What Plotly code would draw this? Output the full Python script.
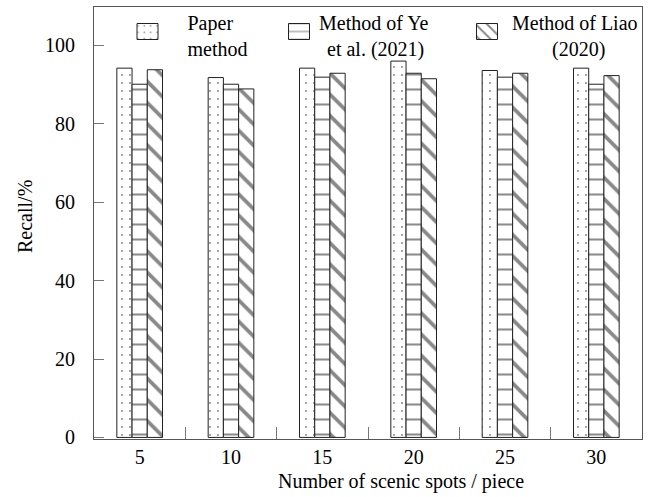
import plotly.graph_objects as go

categories = ["5", "10", "15", "20", "25", "30"]
paper_method = [94.2, 91.8, 94.2, 96.0, 93.6, 94.2]
ye_2021 = [90.1, 90.1, 91.9, 92.9, 91.9, 90.1]
liao_2020 = [93.8, 88.9, 92.9, 91.5, 92.9, 92.3]
y_ticks = [0, 20, 40, 60, 80, 100]

NB = "\u00a0"
TH = "\u2009"
name_paper = NB * 4 + "Paper<br>" + NB * 4 + "method"
name_ye = "Method of Ye<br>" + TH * 2 + "et al. (2021)"
name_liao = NB + "Method of Liao<br>" + NB * 9 + "(2020)"

FONT = "Liberation Serif, Times New Roman, serif"
LINE = "#222222"

fig = go.Figure()
fig.add_trace(go.Bar(
    x=categories, y=paper_method, name=name_paper, legend="legend", showlegend=True,
    marker=dict(color="white", line=dict(color=LINE, width=1),
                pattern=dict(shape=".", size=8, solidity=0.06,
                             fgcolor="#222222", bgcolor="white")),
))
fig.add_trace(go.Bar(
    x=categories, y=ye_2021, name=name_ye, legend="legend2", showlegend=True,
    marker=dict(color="white", line=dict(color=LINE, width=1),
                pattern=dict(shape="-", size=15, solidity=0.14,
                             fgcolor="#1a1a1a", bgcolor="white")),
))
fig.add_trace(go.Bar(
    x=categories, y=liao_2020, name=name_liao, legend="legend3", showlegend=True,
    marker=dict(color="white", line=dict(color=LINE, width=1),
                pattern=dict(shape="\\", size=15, solidity=0.25,
                             fgcolor="#111111", bgcolor="white")),
))

W, H = 654, 497
ml, mr, mt, mb = 94, 12, 7, 58
pw = W - ml - mr
ph = H - mt - mb

def px_x(x):
    return (x - ml) / pw

def px_y(y):
    return 1 - (y - mt) / ph

def cy(y):
    return 1 - y / H

legend_common = dict(font=dict(family=FONT, size=20, color="black"),
                     bgcolor="rgba(0,0,0,0)", borderwidth=0,
                     xref="paper", yref="container", xanchor="left", yanchor="top",
                     valign="middle", orientation="h", visible=True)

fig.update_layout(
    width=W, height=H,
    margin=dict(l=ml, r=mr, t=mt, b=mb, autoexpand=False),
    paper_bgcolor="white", plot_bgcolor="white",
    font=dict(family=FONT, size=20, color="black"),
    showlegend=True,
    barmode="group", bargap=0.5, bargroupgap=0,
    legend=dict(x=px_x(127.5), y=cy(3), **legend_common),
    legend2=dict(x=px_x(279), y=cy(3), **legend_common),
    legend3=dict(x=px_x(467), y=cy(3), **legend_common),
    xaxis=dict(type="category", showline=True, mirror=True, linecolor="#555555",
               linewidth=1, ticks="inside", tickson="boundaries", ticklen=12,
               tickcolor="#777777", showgrid=False, zeroline=False,
               tickfont=dict(family=FONT, size=20, color="black")),
    yaxis=dict(range=[-0.4, 109.8], showline=True, mirror=True, linecolor="#555555",
               linewidth=1, ticks="inside", ticklen=10, tickcolor="#777777",
               tickvals=y_ticks, showgrid=False, zeroline=False,
               ticklabelstandoff=14,
               tickfont=dict(family=FONT, size=20, color="black")),
    annotations=[
        dict(text="Number of scenic spots / piece", xref="paper", yref="paper",
             x=px_x(401), y=px_y(481), xanchor="center", yanchor="middle",
             showarrow=False, font=dict(family=FONT, size=20, color="black")),
        dict(text="Recall/%", xref="paper", yref="paper", textangle=-90,
             x=px_x(25), y=px_y(217), xanchor="center", yanchor="middle",
             showarrow=False, font=dict(family=FONT, size=20, color="black")),
    ],
)

post = """
document.body.style.margin='0';document.body.style.padding='0';
function growIcons(){
  document.querySelectorAll('.legendpoints path').forEach(function(p){
    var d = p.getAttribute('d') || '';
    if (d.indexOf('M6,6H-6V-6H6Z') === 0) { p.setAttribute('d','M10.5,4H-10.5V-12H10.5Z'); }
  });
}
growIcons();
"""

fig.write_html("out.html", config={"displayModeBar": False}, post_script=post)
